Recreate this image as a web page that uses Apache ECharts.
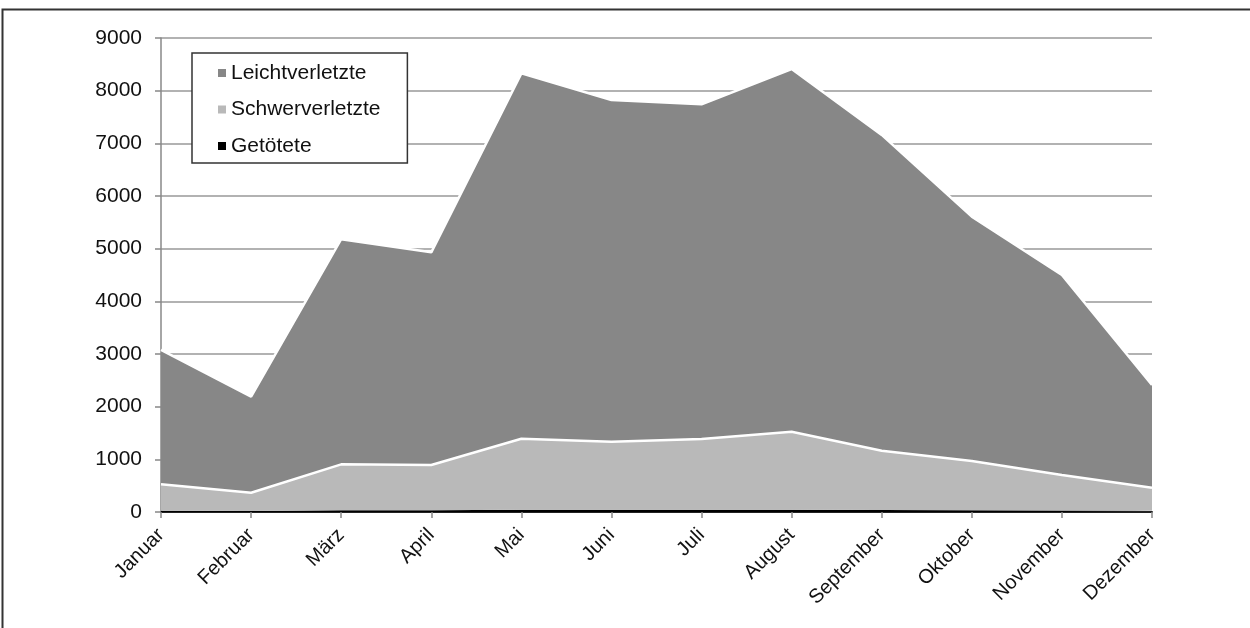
<!DOCTYPE html>
<html>
<head>
<meta charset="utf-8">
<script src="https://cdn.jsdelivr.net/npm/echarts@6/dist/echarts.min.js"></script>
<style>
html,body{margin:0;padding:0;background:#fff;}
#chart{width:1250px;height:628px;}
</style>
</head>
<body>
<div id="chart"></div>
<script>
const months = ['Januar','Februar','März','April','Mai','Juni','Juli','August','September','Oktober','November','Dezember'];
const getoetete = [25, 20, 35, 35, 45, 45, 45, 45, 40, 35, 30, 25];
const schwerverletzte = [501, 346, 870, 857, 1347, 1290, 1341, 1480, 1124, 933, 672, 437];
const leichtverletzte = [2554, 1824, 4275, 4038, 6937, 6487, 6354, 6886, 5996, 4639, 3798, 1949];
const yTicks = [0, 1000, 2000, 3000, 4000, 5000, 6000, 7000, 8000, 9000];

const chart = echarts.init(document.getElementById('chart'));
const font = 'Liberation Sans, Arial, sans-serif';
chart.setOption({
  animation: false,
  backgroundColor: '#fff',
  textStyle: { fontFamily: font },
  graphic: [{
    type: 'rect', shape: { x: 2.5, y: 9.5, width: 1300, height: 700 },
    style: { fill: 'none', stroke: '#333', lineWidth: 2 }, silent: true, z: 100
  }],
  grid: { left: 161, right: 98, top: 38, bottom: 116 },
  legend: {
    orient: 'vertical', left: 192, top: 53,
    data: ['Leichtverletzte', 'Schwerverletzte', 'Getötete'],
    itemWidth: 8, itemHeight: 8, itemGap: 15.5, itemTextGap: 4,
    icon: 'rect',
    backgroundColor: '#fff', borderColor: '#333', borderWidth: 1.5,
    padding: [9.5, 27, 6.5, 26],
    textStyle: { fontSize: 21, color: '#111', fontFamily: font }
  },
  xAxis: {
    type: 'category', data: months, boundaryGap: false,
    axisLine: { lineStyle: { color: '#222', width: 2 } },
    axisTick: { show: true, length: 6, lineStyle: { color: '#888', width: 1.5 } },
    axisLabel: { rotate: 45, fontSize: 20, color: '#111', margin: 20, interval: 0, fontFamily: font },
    splitLine: { show: false }
  },
  yAxis: {
    type: 'value', min: 0, max: 9000, interval: 1000,
    axisLine: { show: true, lineStyle: { color: '#888', width: 1.5 } },
    axisTick: { show: true, length: 6, lineStyle: { color: '#888', width: 1.5 } },
    axisLabel: { fontSize: 21, color: '#111', margin: 19, fontFamily: font,
      formatter: v => yTicks.includes(v) ? String(v) : '' },
    splitLine: { show: true, lineStyle: { color: '#999', width: 1.5 } }
  },
  series: [
    { name: 'Getötete', type: 'line', stack: 'total', data: getoetete, symbol: 'none',
      lineStyle: { width: 0 }, areaStyle: { color: '#000', opacity: 1 }, itemStyle: { color: '#000' } },
    { name: 'Schwerverletzte', type: 'line', stack: 'total', data: schwerverletzte, symbol: 'none',
      lineStyle: { width: 2.5, color: '#fff' }, areaStyle: { color: '#b9b9b9', opacity: 1 }, itemStyle: { color: '#b9b9b9' } },
    { name: 'Leichtverletzte', type: 'line', stack: 'total', data: leichtverletzte, symbol: 'none',
      lineStyle: { width: 2.5, color: '#fff' }, areaStyle: { color: '#878787', opacity: 1 }, itemStyle: { color: '#878787' } }
  ]
});
</script>
</body>
</html>
